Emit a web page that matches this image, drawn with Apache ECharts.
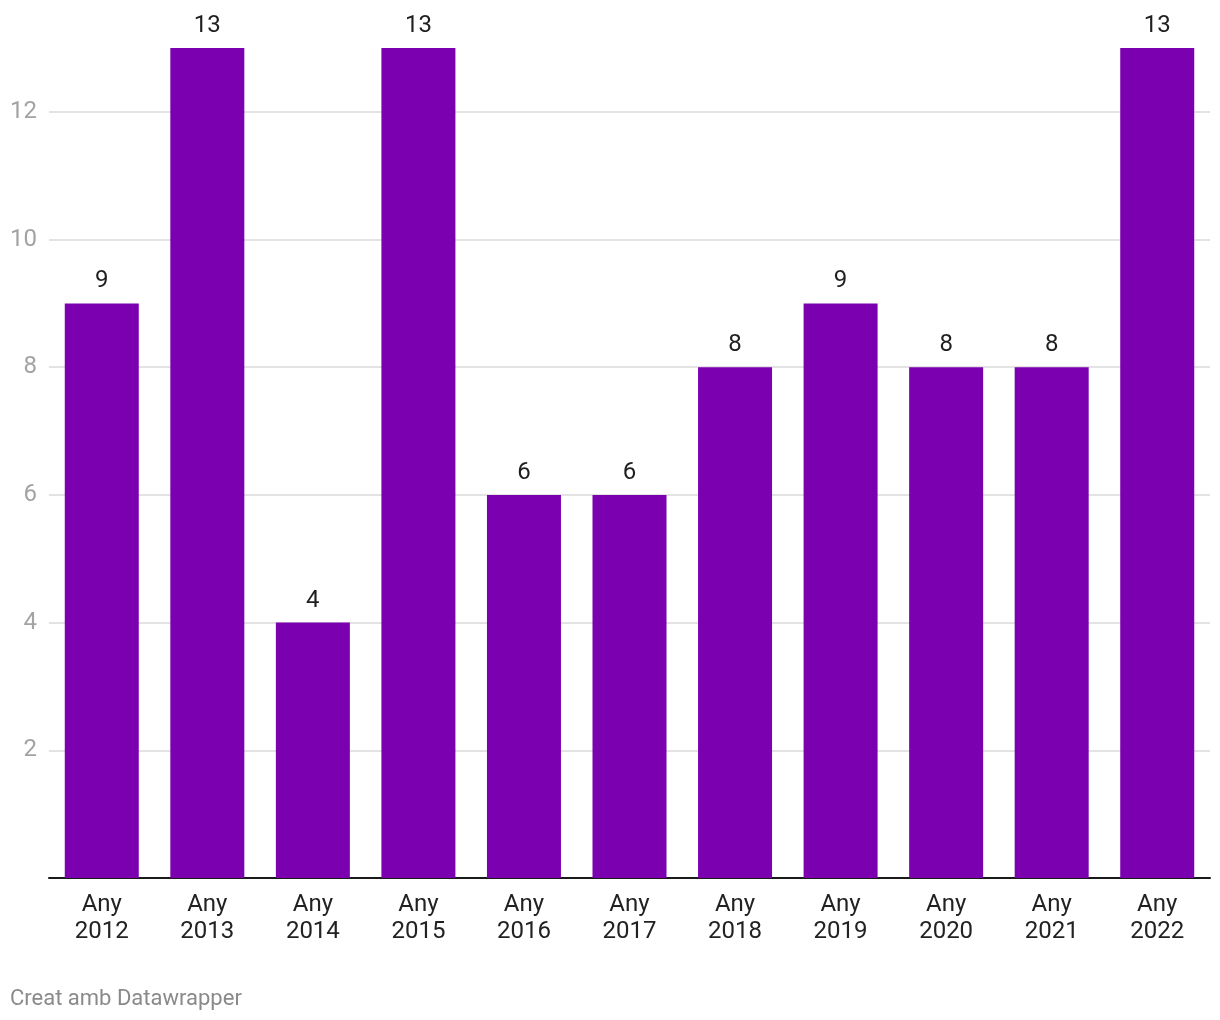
<!DOCTYPE html>
<html><head><meta charset="utf-8">
<script src="https://cdn.jsdelivr.net/npm/echarts@6/dist/echarts.min.js"></script>
<style>html,body{margin:0;padding:0;background:#fff}#c{width:1220px;height:1020px}</style>
</head><body><div id="c"></div>
<script>
const categories = ["Any\n2012","Any\n2013","Any\n2014","Any\n2015","Any\n2016","Any\n2017","Any\n2018","Any\n2019","Any\n2020","Any\n2021","Any\n2022"];
const values = [9,13,4,13,6,6,8,9,8,8,13];
const yTicks = [2,4,6,8,10,12];
const footer = "Creat amb Datawrapper";

const chart = echarts.init(document.getElementById('c'), null, {renderer:'canvas'});
chart.setOption({
  backgroundColor:'#fff',
  animation:false,
  textStyle:{fontFamily:'Roboto'},
  grid:{left:49,right:10,top:48,bottom:142,containLabel:false},
  xAxis:{type:'category',data:categories,
    axisLine:{lineStyle:{color:'#1a1a1a',width:2}},
    axisTick:{show:false},
    axisLabel:{color:'#222',fontSize:24,lineHeight:27,margin:13,fontFamily:'Roboto'}},
  yAxis:{type:'value',min:0,max:13,interval:2,
    axisLine:{show:false},axisTick:{show:false},
    splitLine:{show:true,showMaxLine:false,showMinLine:false,lineStyle:{color:'#e3e3e3',width:2}},
    axisLabel:{color:'#a3a3a3',fontSize:24,margin:12,fontFamily:'Roboto',
      formatter:v=>yTicks.includes(v)?String(v):'',showMaxLabel:false,showMinLabel:false}},
  series:[{type:'bar',data:values,barWidth:74,
    itemStyle:{color:'#7a00b0'},
    label:{show:true,position:'top',distance:10,color:'#1f1f1f',fontSize:24,fontFamily:'Roboto'}}],
  graphic:[{type:'text',left:10,top:988,style:{text:footer,fill:'#8a8a8a',font:'22px Roboto'}}]
});
</script></body></html>
